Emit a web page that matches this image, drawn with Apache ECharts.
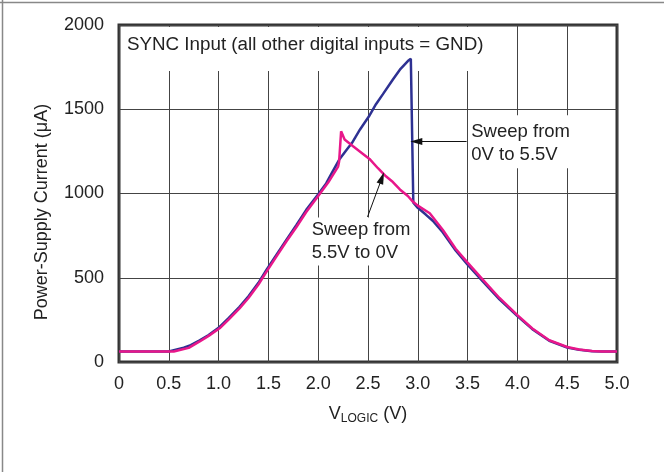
<!DOCTYPE html>
<html>
<head>
<meta charset="utf-8">
<script src="https://cdn.jsdelivr.net/npm/echarts@6/dist/echarts.min.js"></script>
<style>
html,body{margin:0;padding:0;background:#fff;}
#c{width:664px;height:472px;}
</style>
</head>
<body>
<div id="c"></div>
<script>
// Sweep from 0V to 5.5V (blue)
var upX = [0, 0.1, 0.2, 0.3, 0.4, 0.5, 0.58, 0.65, 0.72, 0.81, 0.9, 1.01, 1.1, 1.21, 1.3, 1.4, 1.48, 1.58, 1.68, 1.78, 1.88, 2.0, 2.08, 2.14, 2.21, 2.28, 2.34, 2.42, 2.51, 2.58, 2.65, 2.75, 2.82, 2.9, 2.93, 2.955, 3.0, 3.08, 3.15, 3.25, 3.38, 3.5, 3.65, 3.82, 4.0, 4.15, 4.32, 4.5, 4.62, 4.75, 4.85, 5.0];
var upY = [62, 62, 62, 62, 62, 63, 75, 85, 100, 128, 160, 208, 260, 327, 390, 470, 546, 635, 724, 812, 903, 995, 1060, 1125, 1200, 1255, 1301, 1380, 1458, 1530, 1590, 1677, 1735, 1786, 1800, 945, 915, 875, 838, 770, 662, 578, 480, 372, 272, 195, 126, 86, 72, 64, 62, 62];
// Sweep from 5.5V to 0V (pink)
var downX = [0, 0.1, 0.2, 0.3, 0.4, 0.5, 0.55, 0.6, 0.7, 0.81, 0.9, 1.01, 1.1, 1.21, 1.3, 1.4, 1.48, 1.58, 1.68, 1.78, 1.88, 2.0, 2.1, 2.2, 2.21, 2.23, 2.265, 2.35, 2.45, 2.515, 2.6, 2.68, 2.75, 2.82, 2.9, 2.95, 3.0, 3.12, 3.25, 3.38, 3.5, 3.65, 3.82, 4.0, 4.15, 4.32, 4.5, 4.62, 4.75, 4.85, 5.0];
var downY = [62, 62, 62, 62, 62, 62, 62, 70, 84, 122, 155, 200, 252, 318, 380, 460, 535, 625, 715, 800, 890, 985, 1065, 1160, 1190, 1369, 1320, 1280, 1235, 1205, 1150, 1102, 1068, 1024, 985, 952, 928, 883, 785, 672, 590, 490, 380, 278, 199, 129, 89, 74, 65, 63, 63];
var xTicks = [0, 0.5, 1.0, 1.5, 2.0, 2.5, 3.0, 3.5, 4.0, 4.5, 5.0];
var yTicks = [0, 500, 1000, 1500, 2000];

function pairs(xs, ys) { return xs.map(function (x, i) { return [x, ys[i]]; }); }

var FONT = '"Liberation Sans", Arial, Helvetica, sans-serif';
var chart = echarts.init(document.getElementById('c'));
var option = {
  animation: false,
  backgroundColor: '#fff',
  grid: { left: 119, right: 47, top: 25, bottom: 110, show: true, borderColor: '#333', borderWidth: 3, backgroundColor: 'transparent' },
  xAxis: {
    type: 'value', min: xTicks[0], max: xTicks[xTicks.length - 1], interval: 0.5,
    axisLine: { show: false }, axisTick: { show: false },
    splitLine: { show: true, lineStyle: { color: '#444', width: 1 } },
    axisLabel: { color: '#222', fontSize: 18, fontFamily: FONT, margin: 13,
      formatter: function (v) { return v === 0 ? '0' : v.toFixed(1); } },
    name: '{v|V}{s|LOGIC}{v| (V)}', nameLocation: 'middle', nameGap: 40,
    nameTextStyle: { color: '#222', fontFamily: FONT,
      rich: { v: { fontSize: 18, fontFamily: FONT, color: '#222', lineHeight: 24 },
              s: { fontSize: 12, fontFamily: FONT, color: '#222', lineHeight: 24, padding: [10, 0, 0, 0] } } }
  },
  yAxis: {
    type: 'value', min: yTicks[0], max: yTicks[yTicks.length - 1], interval: 500,
    axisLine: { show: false }, axisTick: { show: false },
    splitLine: { show: true, lineStyle: { color: '#444', width: 1 } },
    axisLabel: { color: '#222', fontSize: 18, fontFamily: FONT, margin: 15,
      formatter: function (v) { return String(v); } }
  },
  series: [
    { type: 'line', name: 'Sweep from 0V to 5.5V', data: pairs(upX, upY), showSymbol: false, z: 3,
      lineStyle: { color: '#2e3192', width: 2.5 }, itemStyle: { color: '#2e3192' },
      markLine: { silent: true, symbol: ['none', 'triangle'], symbolSize: [7, 12], label: { show: false },
        lineStyle: { color: '#111', width: 1, type: 'solid' },
        data: [[{ coord: [3.49, 1308] }, { coord: [2.985, 1308] }]] } },
    { type: 'line', name: 'Sweep from 5.5V to 0V', data: pairs(downX, downY), showSymbol: false, z: 4,
      lineStyle: { color: '#e8178a', width: 2.5 }, itemStyle: { color: '#e8178a' },
      markLine: { silent: true, symbol: ['none', 'triangle'], symbolSize: [7, 12], label: { show: false },
        lineStyle: { color: '#111', width: 1, type: 'solid' },
        data: [[{ coord: [2.495, 861] }, { coord: [2.64, 1092] }]] } }
  ]
};
chart.setOption(option);

function px(x, y) { return chart.convertToPixel({ gridIndex: 0 }, [x, y]); }
var t1 = px(0.08, 1885), t2 = px(3.537, 1366), t3 = px(1.934, 784);
chart.setOption({
  graphic: [
    { type: 'line', z: 10, shape: { x1: 0, y1: 2.5, x2: 664, y2: 2.5 }, style: { stroke: '#888', lineWidth: 1.5 } },
    { type: 'line', z: 10, shape: { x1: 2.5, y1: 0, x2: 2.5, y2: 472 }, style: { stroke: '#888', lineWidth: 1.5 } },
    { type: 'text', z: 1, x: t1[0] - 4, y: t1[1] - 11.5 - 6,
      style: { text: 'SYNC Input (all other digital inputs = GND)', font: '18.8px ' + FONT, fill: '#222',
        lineHeight: 23, backgroundColor: '#fff', padding: [6, 6, 15, 4] } },
    { type: 'text', z: 1, x: t2[0] - 2, y: t2[1] - 11.5 - 5,
      style: { text: 'Sweep from\n0V to 5.5V', font: '18.5px ' + FONT, fill: '#222',
        lineHeight: 23, backgroundColor: '#fff', padding: [5, 6, 2, 2] } },
    { type: 'text', z: 1, x: t3[0] - 4, y: t3[1] - 11.5 - 1,
      style: { text: 'Sweep from\n5.5V to 0V', font: '18.5px ' + FONT, fill: '#222',
        lineHeight: 23, backgroundColor: '#fff', padding: [1, 4, 1, 4] } },
    { type: 'text', z: 1, x: 42, y: 212, rotation: Math.PI / 2,
      style: { text: 'Power-Supply Current (\u03bcA)', font: '18px ' + FONT, fill: '#222',
        align: 'center', verticalAlign: 'middle' } }
  ]
});
</script>
</body>
</html>
